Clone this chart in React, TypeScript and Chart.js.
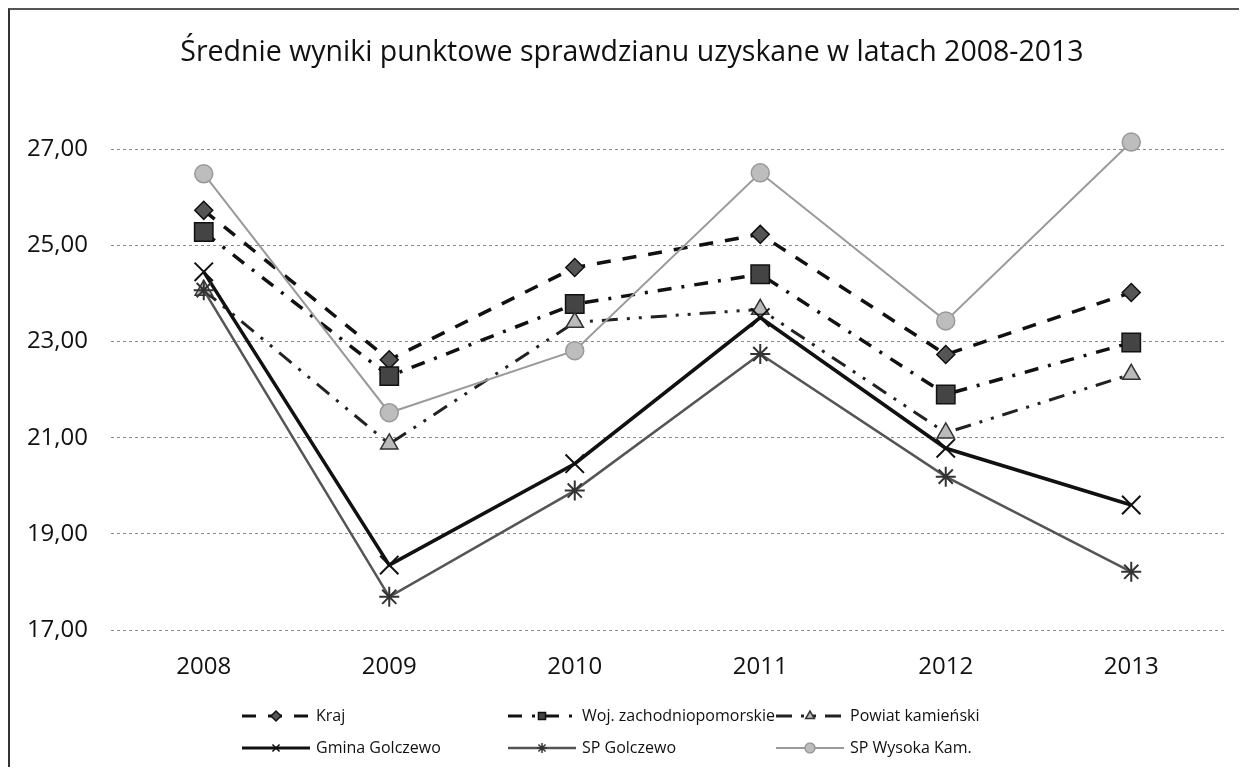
import React, { useEffect, useRef } from 'react';
import { Chart, registerables } from 'chart.js';
import { drawPoint } from 'chart.js/helpers';

Chart.register(...registerables);

const chartTitle = 'Średnie wyniki punktowe sprawdzianu uzyskane w latach 2008-2013';
const years = ['2008', '2009', '2010', '2011', '2012', '2013'];
const yTickValues = [17, 19, 21, 23, 25, 27];

const kraj = [25.73, 22.62, 24.54, 25.23, 22.73, 24.02];
const woj = [25.28, 22.28, 23.78, 24.4, 21.9, 22.98];
const powiat = [24.07, 20.87, 23.4, 23.67, 21.1, 22.32];
const gmina = [24.45, 18.35, 20.46, 23.5, 20.78, 19.6];
const spGolczewo = [24.07, 17.69, 19.9, 22.74, 20.19, 18.21];
const spWysoka = [26.49, 21.52, 22.81, 26.51, 23.43, 27.15];

const seriesLabels = [
  'Kraj',
  'Woj. zachodniopomorskie',
  'Powiat kamieński',
  'Gmina Golczewo',
  'SP Golczewo',
  'SP Wysoka Kam.',
];
const seriesValues = [kraj, woj, powiat, gmina, spGolczewo, spWysoka];

const seriesStyles = [
  { line: '#111', width: 3.5, dash: [14, 12], point: 'rectRot', radius: 9, fill: '#555', stroke: '#111' },
  { line: '#111', width: 3.5, dash: [14, 10, 3, 10], point: 'rect', radius: 13, fill: '#444', stroke: '#111' },
  { line: '#222', width: 3, dash: [16, 9, 3, 9, 3, 9], point: 'triangle', radius: 10, fill: '#bbb', stroke: '#333' },
  { line: '#111', width: 3.5, dash: [], point: 'crossRot', radius: 13, fill: '#111', stroke: '#111' },
  { line: '#555', width: 2.5, dash: [], point: 'star', radius: 10, fill: '#444', stroke: '#333' },
  { line: '#9a9a9a', width: 2, dash: [], point: 'circle', radius: 9, fill: '#bdbdbd', stroke: '#999' },
];

const FONT = '"Open Sans", "DejaVu Sans", sans-serif';
const LEGEND_COLS = [232, 498, 766];
const LEGEND_ROWS = [706, 738];

const titleShift = {
  id: 'titleShift',
  afterLayout(chart: any) {
    if (chart.titleBlock) chart.titleBlock.left += 26;
  },
};

const gridLegend = {
  id: 'gridLegend',
  afterDraw(chart: any) {
    const ctx = chart.ctx;
    chart.data.datasets.forEach((ds: any, i: number) => {
      const x = LEGEND_COLS[i % 3];
      const y = LEGEND_ROWS[Math.floor(i / 3)];
      ctx.save();
      ctx.strokeStyle = ds.borderColor;
      ctx.lineWidth = Math.min(ds.borderWidth, 3);
      ctx.setLineDash(ds.borderDash || []);
      ctx.beginPath();
      ctx.moveTo(x, y);
      ctx.lineTo(x + 68, y);
      ctx.stroke();
      ctx.setLineDash([]);
      ctx.fillStyle = ds.pointBackgroundColor;
      ctx.strokeStyle = ds.pointBorderColor;
      ctx.lineWidth = 1.5;
      drawPoint(ctx, { pointStyle: ds.pointStyle, radius: 5, rotation: 0, borderWidth: 1.5 }, x + 34, y);
      ctx.fillStyle = '#111';
      ctx.font = `16px ${FONT}`;
      ctx.textBaseline = 'middle';
      ctx.textAlign = 'left';
      ctx.fillText(ds.label, x + 74, y);
      ctx.restore();
    });
  },
};

export default function App() {
  const ref = useRef<HTMLCanvasElement | null>(null);

  useEffect(() => {
    if (!ref.current) return;
    const datasets = seriesValues.map((vals, i) => {
      const s = seriesStyles[i];
      return {
        label: seriesLabels[i],
        data: vals,
        borderColor: s.line,
        borderWidth: s.width,
        borderDash: s.dash,
        pointStyle: s.point,
        pointRadius: s.radius,
        pointBackgroundColor: s.fill,
        pointBorderColor: s.stroke,
        pointBorderWidth: s.point === 'crossRot' || s.point === 'star' ? 2 : 1.5,
        tension: 0,
        fill: false,
        order: 6 - i,
      };
    });
    const chart = new Chart(ref.current, {
      type: 'line',
      data: { labels: years, datasets },
      plugins: [titleShift, gridLegend],
      options: {
        responsive: false,
        animation: false,
        layout: { padding: { left: 0, right: 11, top: 0, bottom: 87 } },
        plugins: {
          legend: { display: false },
          tooltip: { enabled: false },
          title: {
            display: true,
            text: chartTitle,
            color: '#111',
            font: { family: FONT, size: 28.5, weight: 'normal' },
            padding: { top: 26, bottom: 31 },
          },
        },
        scales: {
          x: {
            offset: true,
            grid: { display: false, drawTicks: false },
            border: { display: false },
            ticks: { color: '#111', font: { family: FONT, size: 24 }, padding: 23 },
            afterFit: (scale: any) => {
              scale.height = 50;
            },
          },
          y: {
            min: 17,
            max: 28,
            afterBuildTicks: (scale: any) => {
              scale.ticks = yTickValues.map((v) => ({ value: v }));
            },
            afterFit: (scale: any) => {
              scale.width = 101;
            },
            grid: { color: '#8c8c8c', lineWidth: 1, drawTicks: false },
            border: { display: false, dash: [3, 3] },
            ticks: {
              color: '#111',
              font: { family: FONT, size: 24 },
              padding: 23,
              callback: (v: any) => Number(v).toFixed(2).replace('.', ','),
            },
          },
        },
      },
    });
    return () => chart.destroy();
  }, []);

  return (
    <div
      style={{
        width: 1231,
        height: 759,
        boxSizing: 'border-box',
        borderLeft: '2px solid #333',
        borderTop: '2px solid #555',
        overflow: 'hidden',
        background: '#fff',
      }}
    >
      <canvas ref={ref} width={1229} height={757} style={{ display: 'block' }} />
    </div>
  );
}
